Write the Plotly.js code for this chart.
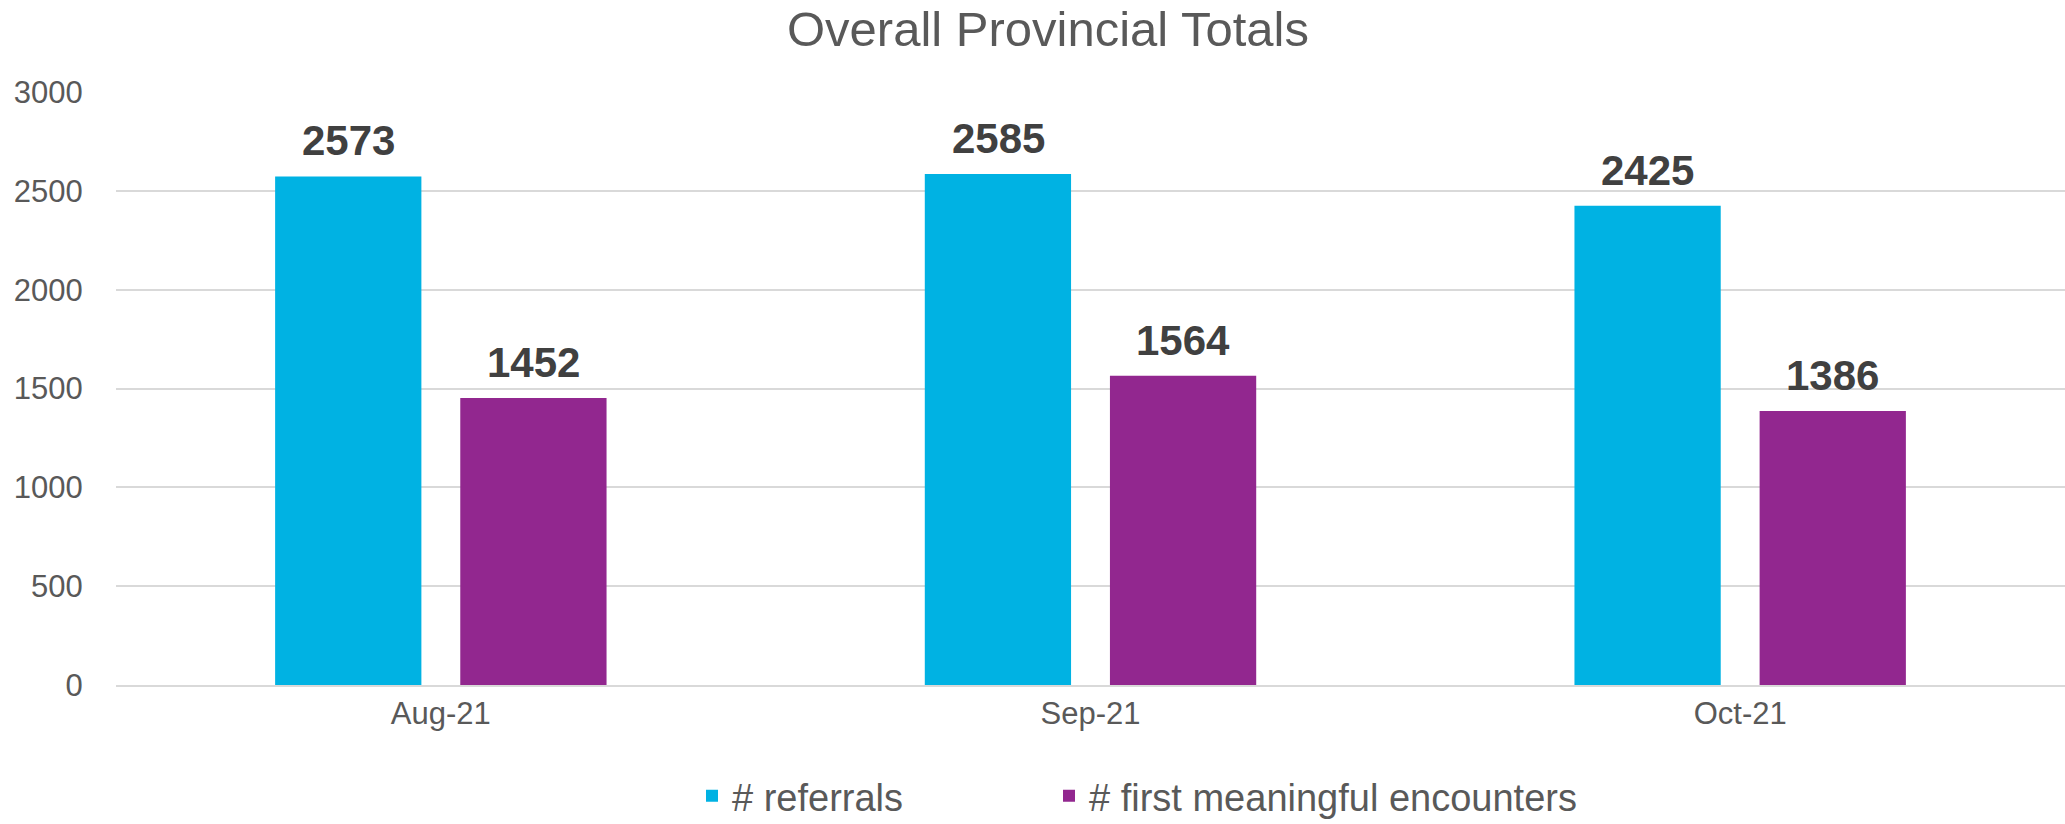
<!DOCTYPE html>
<html>
<head>
<meta charset="utf-8">
<script src="https://cdn.plot.ly/plotly-3.0.1.min.js"></script>
<style>
  html, body { margin: 0; padding: 0; background: #fff; }
  #grafico { width: 2065px; height: 824px; }
</style>
</head>
<body>
<div id="grafico"></div>
<script>
// Datos del gráfico
const meses = ['Aug-21', 'Sep-21', 'Oct-21'];
const referidos = [2573, 2585, 2425];
const encuentros = [1452, 1564, 1386];
const nombres = ['# referrals', '# first meaningful encounters'];
const colores = ['#00B2E3', '#92278F'];

const series = [referidos, encuentros];
const leyendas = ['legend', 'legend2'];

let datos = series.map((valores, i) => ({
  x: meses,
  y: valores,
  type: 'bar',
  name: nombres[i],
  legend: leyendas[i],
  marker: { color: colores[i] },
  hoverinfo: 'skip'
}));

// Etiquetas encima de cada barra
let etiquetas = [];
series.forEach((valores, i) => {
  valores.forEach((v, j) => {
    etiquetas.push({
      x: meses[j],
      y: v,
      xref: 'x',
      yref: 'y',
      text: String(v),
      showarrow: false,
      xshift: (i === 0 ? -1 : 1) * 92.5,
      yanchor: 'bottom',
      yshift: 10,
      font: { family: 'Liberation Sans, Arial, sans-serif', size: 42, color: '#404040', weight: 'bold' }
    });
  });
});

// Leyenda: una caja por serie para controlar la separación
function cajaLeyenda(x) {
  return {
    orientation: 'h',
    xref: 'container',
    yref: 'container',
    x: x,
    xanchor: 'left',
    y: 0.034,
    yanchor: 'middle',
    font: { size: 38, color: '#595959' },
    itemwidth: 30,
    bgcolor: 'rgba(0,0,0,0)'
  };
}

let layout = {
  width: 2065,
  height: 824,
  margin: { l: 116, r: 0, t: 92, b: 139 },
  paper_bgcolor: '#ffffff',
  plot_bgcolor: '#ffffff',
  font: { family: 'Liberation Sans, Arial, sans-serif', color: '#595959' },
  title: {
    text: 'Overall Provincial Totals',
    font: { size: 49, color: '#595959' },
    x: 0.5075,
    xanchor: 'center',
    y: 0.965,
    yanchor: 'middle'
  },
  barmode: 'group',
  bargap: 0.43,
  bargroupgap: 0.21,
  xaxis: {
    type: 'category',
    tickfont: { size: 31, color: '#595959' },
    showgrid: false,
    showline: true,
    linecolor: '#d9d9d9',
    linewidth: 2,
    ticks: ''
  },
  yaxis: {
    range: [0, 3000],
    tickvals: [0, 500, 1000, 1500, 2000, 2500, 3000],
    tickfont: { size: 31, color: '#595959' },
    gridcolor: '#d9d9d9',
    gridwidth: 2,
    zeroline: false,
    ticks: 'outside',
    ticklen: 26,
    tickcolor: 'rgba(0,0,0,0)'
  },
  showlegend: true,
  legend: cajaLeyenda(692 / 2065),
  legend2: cajaLeyenda(1049 / 2065),
  annotations: etiquetas
};

Plotly.newPlot('grafico', datos, layout, { displayModeBar: false, staticPlot: true });
</script>
</body>
</html>
